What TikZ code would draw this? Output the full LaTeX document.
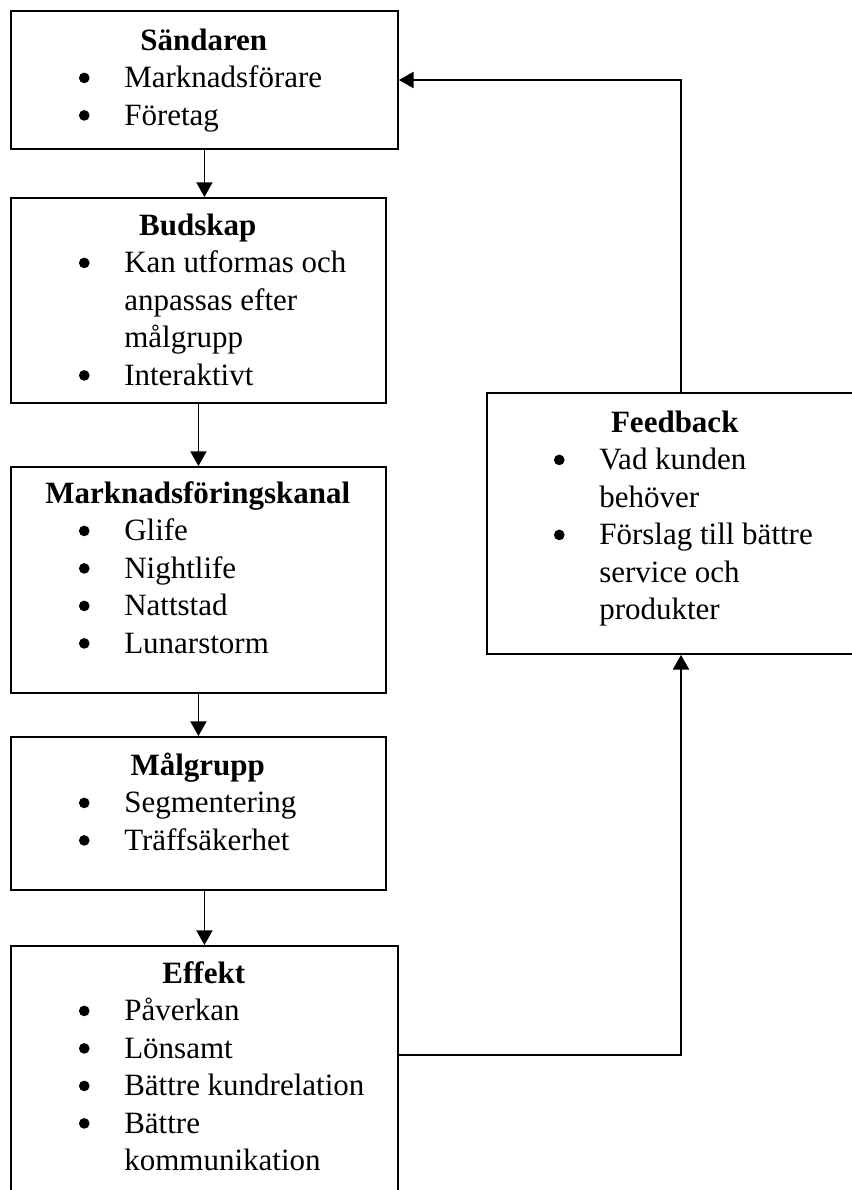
\documentclass[tikz,border=0pt]{standalone}
\usepackage{fontspec}
\setmainfont{Liberation Serif}
\usetikzlibrary{arrows.meta}

% round list bullet, centred on the letters
\newcommand\dotmark{\tikz[x=1pt,y=1pt,baseline=0pt]\fill (0,7.2) circle (4);}
% centred bold heading over the full box width
\newcommand\hd[1]{\makebox[\linewidth][c]{\bfseries #1}}
% bullet line and its continuation (left column boxes)
\newcommand\bitem[1]{\makebox[85.5pt][l]{\hspace*{55.5pt}\makebox[0pt][c]{\dotmark}}#1}
\newcommand\bcont[1]{\hspace*{85.5pt}#1}
% bullet line and its continuation (feedback box)
\newcommand\fitem[1]{\makebox[84.75pt][l]{\hspace*{54.75pt}\makebox[0pt][c]{\dotmark}}#1}
\newcommand\fcont[1]{\hspace*{84.75pt}#1}

\begin{document}
\begin{tikzpicture}[x=0.75pt,y=-0.75pt,
  box/.style={draw,line width=1.4pt,anchor=north west,inner sep=0pt},
  txt/.style={anchor=base west,inner sep=0pt,
    font=\fontsize{23.25pt}{28.125pt}\selectfont},
  arr/.style={line width=1.4pt,-{Triangle[width=12pt,length=11pt]}}]

\useasboundingbox (0,0) rectangle (852,1190);
\clip (0,0) rectangle (852,1190);

% frames
\node[box,minimum width=290.25pt,minimum height=103.5pt]  (s) at (10,10)  {};
\node[box,minimum width=281.25pt,minimum height=153.75pt] (b) at (10,197) {};
\node[box,minimum width=281.25pt,minimum height=169.5pt]  (m) at (10,466) {};
\node[box,minimum width=281.25pt,minimum height=114.75pt] (g) at (10,736) {};
\node[box,minimum width=290.25pt,minimum height=202.5pt]  (e) at (10,945) {};
\node[box,minimum width=282.75pt,minimum height=195.75pt] (f) at (486,392) {};

% texts
\node[txt] (s-t) at (10,50) {\parbox[t]{290.25pt}{\hd{Sändaren}\\
  \bitem{Marknadsförare}\\ \bitem{Företag}}};
\node[txt] (b-t) at (10,235) {\parbox[t]{281.25pt}{\hd{Budskap}\\
  \bitem{Kan utformas och}\\ \bcont{anpassas efter}\\ \bcont{målgrupp}\\
  \bitem{Interaktivt}}};
\node[txt] (m-t) at (10,503) {\parbox[t]{281.25pt}{\hd{Marknadsföringskanal}\\
  \bitem{Glife}\\ \bitem{Nightlife}\\ \bitem{Nattstad}\\ \bitem{Lunarstorm}}};
\node[txt] (g-t) at (10,775) {\parbox[t]{281.25pt}{\hd{Målgrupp}\\
  \bitem{Segmentering}\\ \bitem{Träffsäkerhet}}};
\node[txt] (e-t) at (10,983) {\parbox[t]{290.25pt}{\hd{Effekt}\\
  \bitem{Påverkan}\\ \bitem{Lönsamt}\\ \bitem{Bättre kundrelation}\\
  \bitem{Bättre}\\ \bcont{kommunikation}}};
\node[txt] (f-t) at (486,432) {\parbox[t]{282.75pt}{\hd{Feedback}\\
  \fitem{Vad kunden}\\ \fcont{behöver}\\ \fitem{Förslag till bättre}\\
  \fcont{service och}\\ \fcont{produkter}}};

% connector anchor points
\coordinate (fx)  at (681,0);
\coordinate (ein) at (397,1055);
\coordinate (sin) at (397,80);

% main chain
\draw[arr] (s.south) -- (s.south |- b.north);
\draw[arr] (b.south) -- (b.south |- m.north);
\draw[arr] (m.south) -- (m.south |- g.north);
\draw[arr] (e.north |- g.south) -- (e.north);

% feedback loop
\draw[arr] (e.east |- ein) -| (f.south -| fx);
\draw[arr] (f.north -| fx) |- (s.east |- sin);
\end{tikzpicture}
\end{document}
